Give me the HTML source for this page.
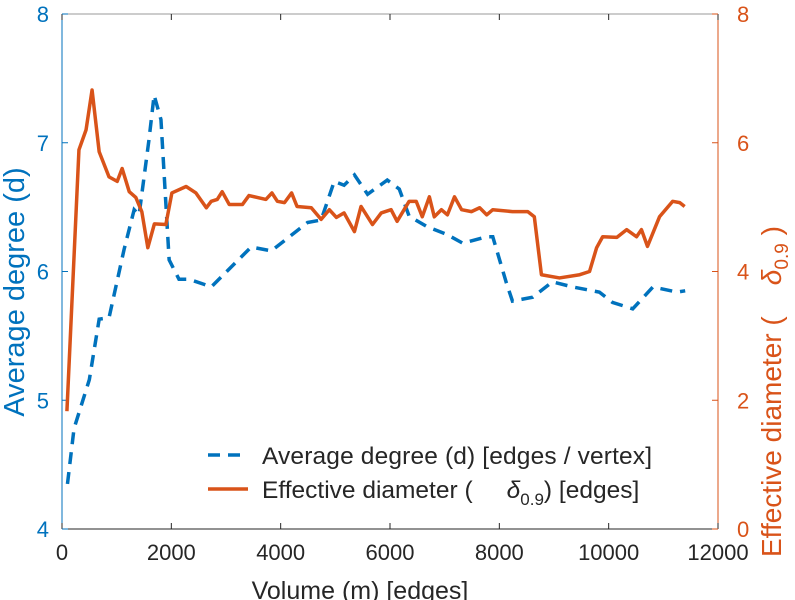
<!DOCTYPE html>
<html><head><meta charset="utf-8"><style>
html,body{margin:0;padding:0;background:#fff;overflow:hidden;}
svg{display:block;font-family:"Liberation Sans",sans-serif;}
</style></head><body>
<svg id="chart" width="795" height="600" viewBox="0 0 795 600" xmlns="http://www.w3.org/2000/svg"></svg>
<script>
const xTicks=[0,2000,4000,6000,8000,10000,12000];
const leftTicks=[4,5,6,7,8];
const rightTicks=[0,2,4,6,8];
const degX=[100,220,500,680,860,1135,1320,1410,1590,1685,1810,1960,2140,2320,2600,2730,3460,3830,4250,4490,4740,4980,5160,5350,5590,5950,6170,6350,6670,7030,7330,7770,7880,8130,8240,8610,8970,9340,9830,10070,10440,10810,11250,11400];
const degY=[4.35,4.78,5.16,5.63,5.64,6.17,6.48,6.44,7.02,7.37,7.18,6.09,5.94,5.94,5.9,5.88,6.19,6.16,6.3,6.38,6.4,6.7,6.67,6.75,6.6,6.71,6.64,6.43,6.35,6.29,6.22,6.27,6.27,5.91,5.77,5.8,5.92,5.88,5.84,5.76,5.71,5.88,5.84,5.85];
const diaX=[90,310,440,550,680,860,1010,1100,1230,1350,1460,1570,1690,1900,2010,2270,2450,2640,2730,2840,2930,3060,3300,3420,3570,3730,3840,3940,4070,4200,4300,4560,4740,4890,5020,5160,5350,5470,5680,5840,6020,6130,6350,6480,6590,6720,6810,6940,7050,7180,7310,7490,7640,7770,7880,8240,8520,8640,8770,9100,9470,9650,9780,9890,10150,10330,10510,10600,10710,10930,11170,11300,11390];
const diaY=[1.83,5.89,6.2,6.82,5.86,5.47,5.4,5.6,5.24,5.15,4.93,4.37,4.74,4.73,5.22,5.32,5.22,4.99,5.09,5.12,5.24,5.04,5.04,5.18,5.15,5.12,5.22,5.09,5.07,5.22,5.01,4.99,4.81,4.96,4.84,4.91,4.62,5.01,4.73,4.91,4.96,4.78,5.09,5.09,4.85,5.16,4.85,4.96,4.88,5.16,4.96,4.93,4.99,4.88,4.96,4.93,4.93,4.85,3.95,3.9,3.95,4.0,4.37,4.54,4.53,4.65,4.54,4.65,4.39,4.85,5.09,5.07,5.01];
const L=62,R=718,T=14,B=529;
const sx=v=>L+(v-0)/12000*(R-L);
const syL=v=>B-(v-4)/4*(B-T);
const syR=v=>B-v/8*(B-T);
const svg=document.getElementById('chart');
const NS='http://www.w3.org/2000/svg';
function mk(tag,attrs,parent){const e=document.createElementNS(NS,tag);for(const k in attrs)e.setAttribute(k,attrs[k]);(parent||svg).appendChild(e);return e;}
const BLUE='#0072BD',OR='#D95319',GR='#262626';
let f=mk('line',{x1:L,y1:T,x2:R,y2:T,stroke:'#999','stroke-width':1});


f=mk('line',{x1:L,y1:B,x2:R,y2:B,stroke:GR,'stroke-width':1});


f=mk('line',{x1:L,y1:T,x2:L,y2:B,stroke:BLUE,'stroke-width':1});


f=mk('line',{x1:R,y1:T,x2:R,y2:B,stroke:OR,'stroke-width':1});


xTicks.forEach(v=>{
  const x=sx(v);
  let t=mk('line',{x1:x,y1:B,x2:x,y2:B-6,stroke:GR});
  
  
  t=mk('line',{x1:x,y1:T,x2:x,y2:T+6,stroke:GR});
  
  
  const lb=mk('text',{x:x,y:B+31,'text-anchor':'middle','font-size':22,fill:GR});
  lb.textContent=v;
  
  
});
leftTicks.forEach(v=>{
  const y=syL(v);
  const t=mk('line',{x1:L,y1:y,x2:L+6,y2:y,stroke:BLUE});
  
  
  const lb=mk('text',{x:L-13,y:y+8,'text-anchor':'end','font-size':22,fill:BLUE});
  lb.textContent=v;
  
  
});
rightTicks.forEach(v=>{
  const y=syR(v);
  const t=mk('line',{x1:R,y1:y,x2:R-6,y2:y,stroke:OR});
  
  
  const lb=mk('text',{x:R+19,y:y+8,'text-anchor':'start','font-size':22,fill:OR});
  lb.textContent=v;
  
  
});
let p=mk('polyline',{points:degX.map((v,i)=>sx(v)+','+syL(degY[i])).join(' '),fill:'none',stroke:BLUE,'stroke-width':3.5,'stroke-dasharray':'12,8'});


p=mk('polyline',{points:diaX.map((v,i)=>sx(v)+','+syR(diaY[i])).join(' '),fill:'none',stroke:OR,'stroke-width':3.5,'stroke-linejoin':'round'});


let tt=mk('text',{x:0,y:0,'text-anchor':'middle','font-size':29,fill:BLUE,transform:'translate(24,292) rotate(-90)'});
tt.textContent='Average degree (d)';


tt=mk('text',{x:0,y:0,'font-size':28,fill:OR,transform:'translate(781,557) rotate(-90)'});
tt.innerHTML='Effective diameter (&#160;&#160;&#160;&#160;<tspan font-style="italic">δ</tspan><tspan font-size="19" dy="7">0.9</tspan><tspan dy="-7"> )</tspan>';


tt=mk('text',{x:360,y:599,'text-anchor':'middle','font-size':25,fill:GR});
tt.textContent='Volume (m) [edges]';


const lg=mk('g',{});


let e=mk('line',{x1:208,y1:455,x2:248,y2:455,stroke:BLUE,'stroke-width':3.5,'stroke-dasharray':'12,8'},lg);


e=mk('text',{x:262,y:464,'font-size':24.5,fill:GR,textLength:390},lg);
e.textContent='Average degree (d) [edges / vertex]';


e=mk('line',{x1:208,y1:489,x2:248,y2:489,stroke:OR,'stroke-width':3.5},lg);


e=mk('text',{x:262,y:498,'font-size':24.5,fill:GR},lg);
e.innerHTML='Effective diameter (&#160;&#160;&#160;&#160;&#160;<tspan font-style="italic">δ</tspan><tspan font-size="17" dy="7">0.9</tspan><tspan dy="-7">) [edges]</tspan>';


</script>
</body></html>
